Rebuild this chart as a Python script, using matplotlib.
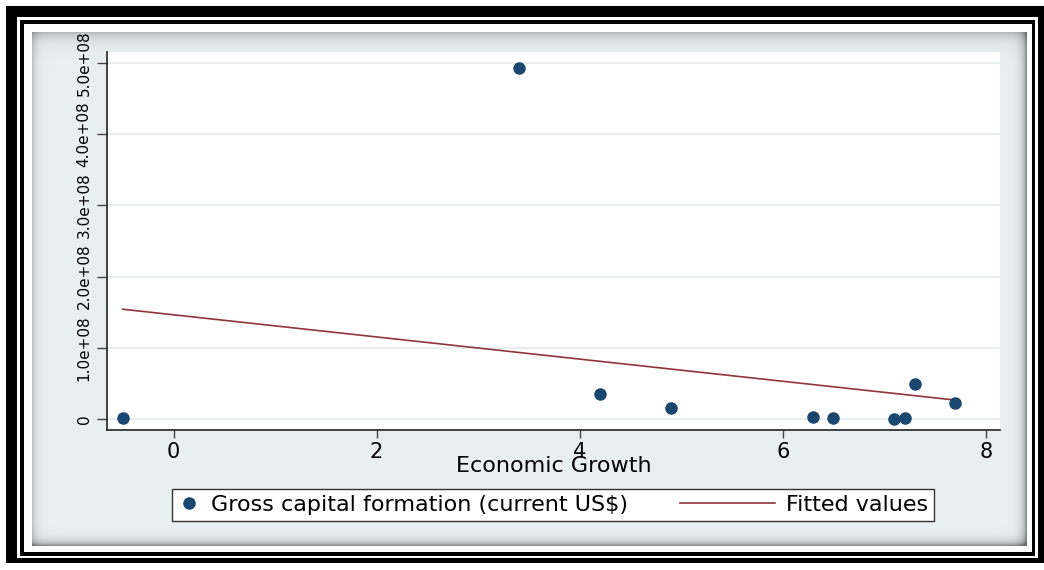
import numpy as np
import matplotlib
matplotlib.use("Agg")
import matplotlib.pyplot as plt
from matplotlib.patches import Rectangle
from matplotlib.legend_handler import HandlerLine2D

# economic growth (%) vs gross capital formation (current US$)
growth = [-0.5, 3.4, 4.2, 4.9, 6.3, 6.5, 7.1, 7.2, 7.3, 7.7]
gcf = [1.0e6, 4.93e8, 3.5e7, 1.5e7, 3.0e6, 1.0e6, 0.5e6, 2.0e6, 4.9e7, 2.2e7]

xticks = [0, 2, 4, 6, 8]
yticks = [0, 1e8, 2e8, 3e8, 4e8, 5e8]
ytick_labels = ["0", "1.0e+08", "2.0e+08", "3.0e+08", "4.0e+08", "5.0e+08"]

W, H = 1044, 570
NAVY = "#1a476f"
MAROON = "#90353b"
PANEL = np.array([0.913, 0.941, 0.949])


def box(x0, y0, x1, y1):
    # pixel box (top-left origin) -> figure fraction rect
    return [x0 / W, 1 - y1 / H, (x1 - x0) / W, (y1 - y0) / H]


class LongLine(HandlerLine2D):
    # legend line that reaches further left than the handle box
    def __init__(self, extra, **kw):
        super().__init__(**kw)
        self.extra = extra

    def create_artists(self, legend, orig_handle, xdescent, ydescent,
                       width, height, fontsize, trans):
        return super().create_artists(legend, orig_handle, xdescent + self.extra,
                                      ydescent, width + self.extra, height,
                                      fontsize, trans)


fig = plt.figure(figsize=(W / 100, H / 100), dpi=100)
fig.patch.set_facecolor("white")

# double black frame
for (x0, y0, x1, y1), c in [((6, 6, 1044, 563), "black"),
                            ((17, 17, 1038, 558), "white"),
                            ((20, 20, 1035, 556), "black"),
                            ((24, 24, 1032, 552), "white")]:
    r = box(x0, y0, x1, y1)
    fig.add_artist(Rectangle((r[0], r[1]), r[2], r[3], transform=fig.transFigure,
                             facecolor=c, edgecolor="none", zorder=-3))

# graph region with soft shaded edges
pax = fig.add_axes(box(32, 32, 1027, 546), zorder=-1)
ph, pw = 546 - 32, 1027 - 32
yy = np.arange(ph)[:, None]
xx = np.arange(pw)[None, :]
shade = (1 - 0.22 * np.exp(-yy / 7) - 0.18 * np.exp(-xx / 4)
         - 0.40 * np.exp(-(pw - 1 - xx) / 4) - 0.40 * np.exp(-(ph - 1 - yy) / 4))
shade = np.clip(shade, 0.45, 1)
pax.imshow(PANEL[None, None, :] * shade[..., None], aspect="auto", interpolation="bilinear")
pax.axis("off")

ax = fig.add_axes(box(107, 52, 1000, 430), zorder=1)
ax.set_facecolor("white")

pts, = ax.plot(growth, gcf, ls="none", marker="o", markersize=8,
               markerfacecolor=NAVY, markeredgecolor=NAVY, zorder=3)

k, b = np.polyfit(growth, gcf, 1)
xs = np.array([min(growth), max(growth)])
fit, = ax.plot(xs, k * xs + b, color=MAROON, lw=1.2, zorder=2)

ax.set_xlim(-0.655, 8.14)
ax.set_ylim(-0.155e8, 5.155e8)
ax.set_xticks(xticks)
ax.set_xticklabels([str(t) for t in xticks], fontsize=15)
ax.set_yticks(yticks)
ax.set_yticklabels(ytick_labels, rotation=90, va="center", fontsize=11)
ax.tick_params(axis="x", length=6, width=1, color="#444", pad=3)
ax.tick_params(axis="y", length=7, width=1, color="#444", pad=4)

ax.grid(axis="y", color="#e6eef0", lw=1.3)
ax.set_axisbelow(True)
for s in ["top", "right"]:
    ax.spines[s].set_visible(False)
for s in ["left", "bottom"]:
    ax.spines[s].set_color("#222")
    ax.spines[s].set_linewidth(1.2)

ax.set_xlabel("Economic Growth", fontsize=16)
ax.xaxis.set_label_coords(0.5, -0.069)

leg = fig.legend([pts, fit], ["Gross capital formation (current US$)", "Fitted values"],
                 loc="center", bbox_to_anchor=(553 / W, 1 - 505 / H), ncol=2,
                 numpoints=1, handlelength=1.0, handletextpad=0.5,
                 columnspacing=5.6, borderpad=0.25, fancybox=False,
                 edgecolor="#333", framealpha=1, fontsize=16,
                 handler_map={fit: LongLine(52)})
leg.get_frame().set_linewidth(1.0)

fig.savefig("out.png", dpi=100)
